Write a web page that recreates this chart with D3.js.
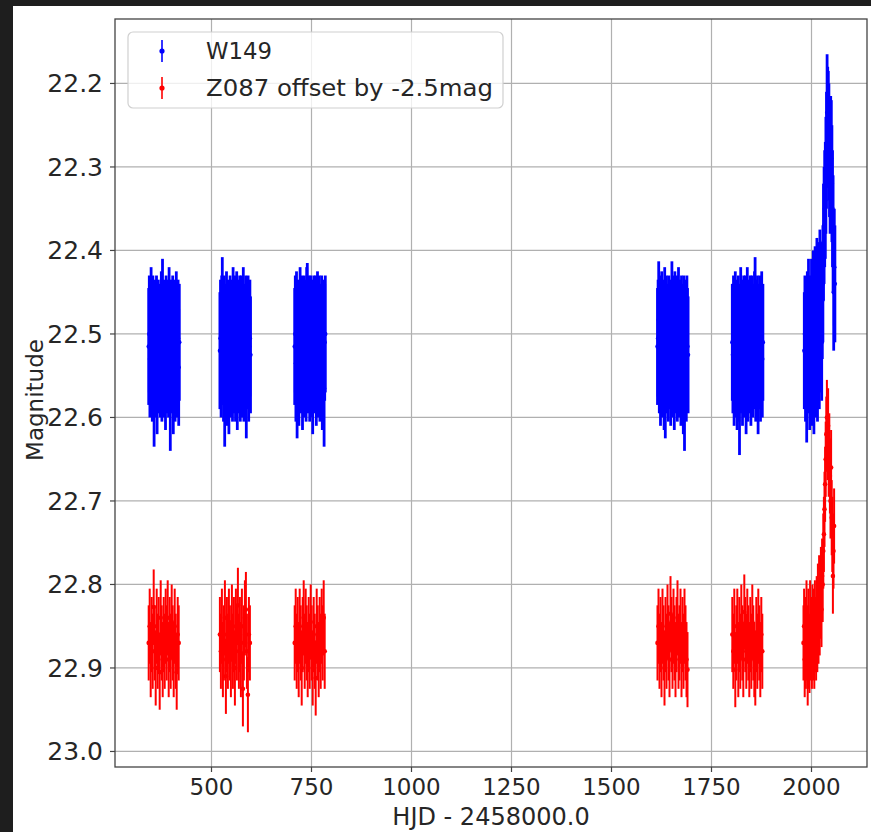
<!DOCTYPE html>
<html>
<head>
<meta charset="utf-8">
<script src="https://cdn.jsdelivr.net/npm/d3@7"></script>
<style>
  html, body { margin: 0; padding: 0; background: #1e1e1e; }
  svg { display: block; }
</style>
</head>
<body>
<div id="chart"></div>
<script>
// light curve: W149 and Z087 (offset by -2.5 mag), six observing seasons
var seasonStarts = [343, 521, 708, 1615, 1802, 1982];
var z087Starts = [343, 521, 708, 1615, 1802, 1980];
var w149Cadence = [1.5, 1.5, 1.5, 1.5, 1.5, 1.5];
var z087Cadence = [2.5, 2.5, 2.5, 2.5, 2.5, 1.5];
var w149Err = 0.07;
var z087Err = 0.045;

var w149S1 = [22.515, 22.50, 22.53, 22.51, 22.49, 22.525, 22.535, 22.50, 22.52, 22.565,
  22.505, 22.53, 22.51, 22.50, 22.55, 22.515, 22.505, 22.525, 22.51, 22.53,
  22.52, 22.495, 22.535, 22.48, 22.515, 22.53, 22.505, 22.52, 22.545, 22.50,
  22.525, 22.505, 22.52, 22.53, 22.49, 22.515, 22.57, 22.505, 22.525, 22.515,
  22.50, 22.55, 22.505, 22.52, 22.535, 22.51, 22.495, 22.53, 22.515, 22.505,
  22.54, 22.51];
var w149S2 = [22.52, 22.505, 22.53, 22.50, 22.478, 22.515, 22.535, 22.50, 22.565, 22.51,
  22.525, 22.495, 22.54, 22.51, 22.505, 22.55, 22.52, 22.50, 22.53, 22.505,
  22.515, 22.535, 22.49, 22.525, 22.51, 22.50, 22.535, 22.52, 22.495, 22.545,
  22.505, 22.525, 22.515, 22.50, 22.535, 22.51, 22.50, 22.53, 22.52, 22.49,
  22.535, 22.51, 22.525, 22.50, 22.555, 22.505, 22.52, 22.50, 22.535, 22.515,
  22.505, 22.525];
var w149S3 = [22.515, 22.50, 22.535, 22.495, 22.555, 22.52, 22.505, 22.54, 22.51, 22.49,
  22.525, 22.515, 22.50, 22.545, 22.51, 22.53, 22.50, 22.52, 22.505, 22.535,
  22.49, 22.485, 22.525, 22.51, 22.50, 22.535, 22.515, 22.50, 22.53, 22.505,
  22.55, 22.51, 22.50, 22.525, 22.52, 22.50, 22.54, 22.51, 22.495, 22.53,
  22.515, 22.50, 22.535, 22.51, 22.525, 22.50, 22.545, 22.505, 22.52, 22.565,
  22.51, 22.50];
var w149S4 = [22.515, 22.505, 22.483, 22.525, 22.50, 22.54, 22.51, 22.495, 22.53, 22.52,
  22.505, 22.545, 22.49, 22.555, 22.515, 22.50, 22.525, 22.51, 22.535, 22.50,
  22.52, 22.505, 22.54, 22.51, 22.483, 22.53, 22.50, 22.515, 22.545, 22.495,
  22.525, 22.51, 22.50, 22.535, 22.52, 22.49, 22.53, 22.505, 22.515, 22.54,
  22.50, 22.525, 22.51, 22.55, 22.50, 22.57, 22.52, 22.505, 22.535, 22.50,
  22.515, 22.525];
var w149S5 = [22.51, 22.525, 22.50, 22.54, 22.515, 22.495, 22.53, 22.505, 22.545, 22.52,
  22.50, 22.535, 22.575, 22.51, 22.49, 22.525, 22.505, 22.54, 22.515, 22.50,
  22.53, 22.51, 22.50, 22.55, 22.52, 22.49, 22.535, 22.505, 22.525, 22.51,
  22.50, 22.54, 22.515, 22.50, 22.53, 22.51, 22.52, 22.495, 22.478, 22.535,
  22.505, 22.525, 22.50, 22.55, 22.51, 22.52, 22.50, 22.535, 22.515, 22.495,
  22.53, 22.51];
var w149S6 = [22.52, 22.50, 22.535, 22.51, 22.56, 22.495, 22.525, 22.48, 22.515, 22.545,
  22.50, 22.53, 22.48, 22.54, 22.505, 22.47, 22.55, 22.51, 22.465, 22.53,
  22.49, 22.455, 22.535, 22.495, 22.46, 22.52, 22.445, 22.50, 22.465, 22.51,
  22.46, 22.44, 22.39, 22.37, 22.35, 22.34, 22.31, 22.28, 22.235, 22.25,
  22.255, 22.27, 22.29, 22.31, 22.285, 22.29, 22.32, 22.35, 22.38, 22.45,
  22.42, 22.44];

var z087S1 = [22.87, 22.85, 22.89, 22.86, 22.88, 22.827, 22.87, 22.90, 22.85, 22.88,
  22.86, 22.905, 22.84, 22.87, 22.89, 22.86, 22.88, 22.85, 22.87, 22.84,
  22.89, 22.86, 22.88, 22.845, 22.87, 22.89, 22.85, 22.88, 22.905, 22.86,
  22.87];
var z087S2 = [22.86, 22.88, 22.85, 22.89, 22.87, 22.84, 22.91, 22.86, 22.88, 22.85,
  22.87, 22.89, 22.845, 22.88, 22.86, 22.90, 22.85, 22.87, 22.825, 22.88,
  22.86, 22.89, 22.85, 22.925, 22.87, 22.84, 22.83, 22.88, 22.932, 22.86,
  22.87];
var z087S3 = [22.87, 22.85, 22.88, 22.86, 22.89, 22.85, 22.87, 22.90, 22.86, 22.84,
  22.88, 22.85, 22.87, 22.89, 22.86, 22.88, 22.845, 22.87, 22.90, 22.86,
  22.88, 22.912, 22.85, 22.87, 22.89, 22.86, 22.88, 22.85, 22.87, 22.84,
  22.88];
var z087S4 = [22.87, 22.85, 22.88, 22.86, 22.89, 22.85, 22.87, 22.90, 22.86, 22.88,
  22.845, 22.87, 22.89, 22.835, 22.86, 22.88, 22.85, 22.87, 22.89, 22.86,
  22.84, 22.88, 22.87, 22.85, 22.89, 22.86, 22.88, 22.85, 22.87, 22.89,
  22.902];
var z087S5 = [22.86, 22.88, 22.85, 22.902, 22.87, 22.85, 22.89, 22.86, 22.88, 22.845,
  22.87, 22.89, 22.833, 22.86, 22.88, 22.85, 22.87, 22.89, 22.86, 22.88,
  22.845, 22.87, 22.89, 22.90, 22.86, 22.88, 22.85, 22.87, 22.89, 22.86,
  22.88];
var z087S6 = [22.87, 22.85, 22.89, 22.86, 22.88, 22.84, 22.87, 22.90, 22.85, 22.88,
  22.885, 22.84, 22.87, 22.86, 22.88, 22.845, 22.87, 22.85, 22.88, 22.84,
  22.86, 22.87, 22.835, 22.86, 22.82, 22.85, 22.81, 22.84, 22.82, 22.80,
  22.83, 22.79, 22.80, 22.76, 22.74, 22.71, 22.68, 22.65, 22.62, 22.60,
  22.63, 22.61, 22.65, 22.64, 22.67, 22.70, 22.66, 22.72, 22.74, 22.79,
  22.76, 22.73];

var w149Seasons = [w149S1, w149S2, w149S3, w149S4, w149S5, w149S6];
var z087Seasons = [z087S1, z087S2, z087S3, z087S4, z087S5, z087S6];

var xTicks = [500, 750, 1000, 1250, 1500, 1750, 2000];
var yTicks = [22.2, 22.3, 22.4, 22.5, 22.6, 22.7, 22.8, 22.9, 23.0];
var legendLabels = ["W149", "Z087 offset by -2.5mag"];

(function () {
  var d3 = window.d3;
  var W = 871, H = 832;
  var box = { l: 115, t: 19, r: 867, b: 767 };
  var font = "DejaVu Sans";

  var svg = d3.select("#chart").append("svg").attr("width", W).attr("height", H);
  svg.append("rect").attr("width", W).attr("height", H).attr("fill", "#1e1e1e");
  svg.append("rect").attr("x", 13).attr("y", 6).attr("width", W - 13).attr("height", H - 6).attr("fill", "#ffffff");

  var x = d3.scaleLinear().domain([258.75, 2138.75]).range([box.l, box.r]);
  var y = d3.scaleLinear().domain([22.1228, 23.0186]).range([box.t, box.b]);

  // grid
  var grid = svg.append("g");
  xTicks.forEach(function (t) {
    grid.append("line").attr("x1", x(t)).attr("x2", x(t)).attr("y1", box.t).attr("y2", box.b)
      .attr("stroke", "#b0b0b0").attr("stroke-width", 1.2);
  });
  yTicks.forEach(function (t) {
    grid.append("line").attr("x1", box.l).attr("x2", box.r).attr("y1", y(t)).attr("y2", y(t))
      .attr("stroke", "#b0b0b0").attr("stroke-width", 1.2);
  });

  svg.append("clipPath").attr("id", "plotclip").append("rect")
    .attr("x", box.l).attr("y", box.t).attr("width", box.r - box.l).attr("height", box.b - box.t);

  function pointsOf(seasons, starts, cadence) {
    var out = [];
    seasons.forEach(function (mags, s) {
      mags.forEach(function (m, i) { out.push({ t: starts[s] + i * cadence[s], m: m }); });
    });
    return out;
  }

  function errorbars(pts, err, color, sw, r) {
    var g = svg.append("g").attr("clip-path", "url(#plotclip)");
    g.selectAll("line").data(pts).enter().append("line")
      .attr("x1", function (d) { return x(d.t); }).attr("x2", function (d) { return x(d.t); })
      .attr("y1", function (d) { return y(d.m - err); }).attr("y2", function (d) { return y(d.m + err); })
      .attr("stroke", color).attr("stroke-width", sw);
    g.selectAll("circle").data(pts).enter().append("circle")
      .attr("cx", function (d) { return x(d.t); }).attr("cy", function (d) { return y(d.m); })
      .attr("r", r).attr("fill", color);
  }

  errorbars(pointsOf(w149Seasons, seasonStarts, w149Cadence), w149Err, "#0000ff", 2.8, 2.2);
  errorbars(pointsOf(z087Seasons, z087Starts, z087Cadence), z087Err, "#ff0000", 2.0, 2.3);

  // frame + ticks
  svg.append("rect").attr("x", box.l).attr("y", box.t).attr("width", box.r - box.l).attr("height", box.b - box.t)
    .attr("fill", "none").attr("stroke", "#444").attr("stroke-width", 1.3);
  var ax = svg.append("g").attr("font-family", font).attr("fill", "#262626");
  xTicks.forEach(function (t) {
    ax.append("line").attr("x1", x(t)).attr("x2", x(t)).attr("y1", box.b).attr("y2", box.b + 5)
      .attr("stroke", "#444").attr("stroke-width", 1.2);
    ax.append("text").attr("x", x(t)).attr("y", box.b + 28).attr("text-anchor", "middle")
      .attr("font-size", 23).text(t);
  });
  yTicks.forEach(function (t) {
    ax.append("line").attr("x1", box.l - 5).attr("x2", box.l).attr("y1", y(t)).attr("y2", y(t))
      .attr("stroke", "#444").attr("stroke-width", 1.2);
    ax.append("text").attr("x", box.l - 12).attr("y", y(t)).attr("dy", "0.36em").attr("text-anchor", "end")
      .attr("font-size", 25).text(t.toFixed(1));
  });
  ax.append("text").attr("x", 491).attr("y", 825).attr("text-anchor", "middle")
    .attr("font-size", 24).text("HJD - 2458000.0");
  ax.append("text").attr("transform", "translate(43,400) rotate(-90)").attr("text-anchor", "middle")
    .attr("font-size", 23).text("Magnitude");

  // legend
  var lg = svg.append("g");
  lg.append("rect").attr("x", 128).attr("y", 32).attr("width", 375).attr("height", 76).attr("rx", 5)
    .attr("fill", "#ffffff").attr("fill-opacity", 0.8).attr("stroke", "#d0d0d0").attr("stroke-width", 1.2);
  var legColors = ["#0000ff", "#ff0000"];
  var legWidths = [66, 287];
  legendLabels.forEach(function (lab, i) {
    var cy = 51 + i * 37;
    lg.append("line").attr("x1", 162).attr("x2", 162).attr("y1", cy - 11).attr("y2", cy + 11)
      .attr("stroke", legColors[i]).attr("stroke-width", 1.6);
    lg.append("circle").attr("cx", 162).attr("cy", cy).attr("r", 2.6).attr("fill", legColors[i]);
    lg.append("text").attr("x", 206).attr("y", cy).attr("dy", "0.36em").attr("font-family", font)
      .attr("font-size", 23).attr("fill", "#262626")
      .attr("textLength", legWidths[i]).attr("lengthAdjust", "spacingAndGlyphs").text(lab);
  });
})();
</script>
</body>
</html>
